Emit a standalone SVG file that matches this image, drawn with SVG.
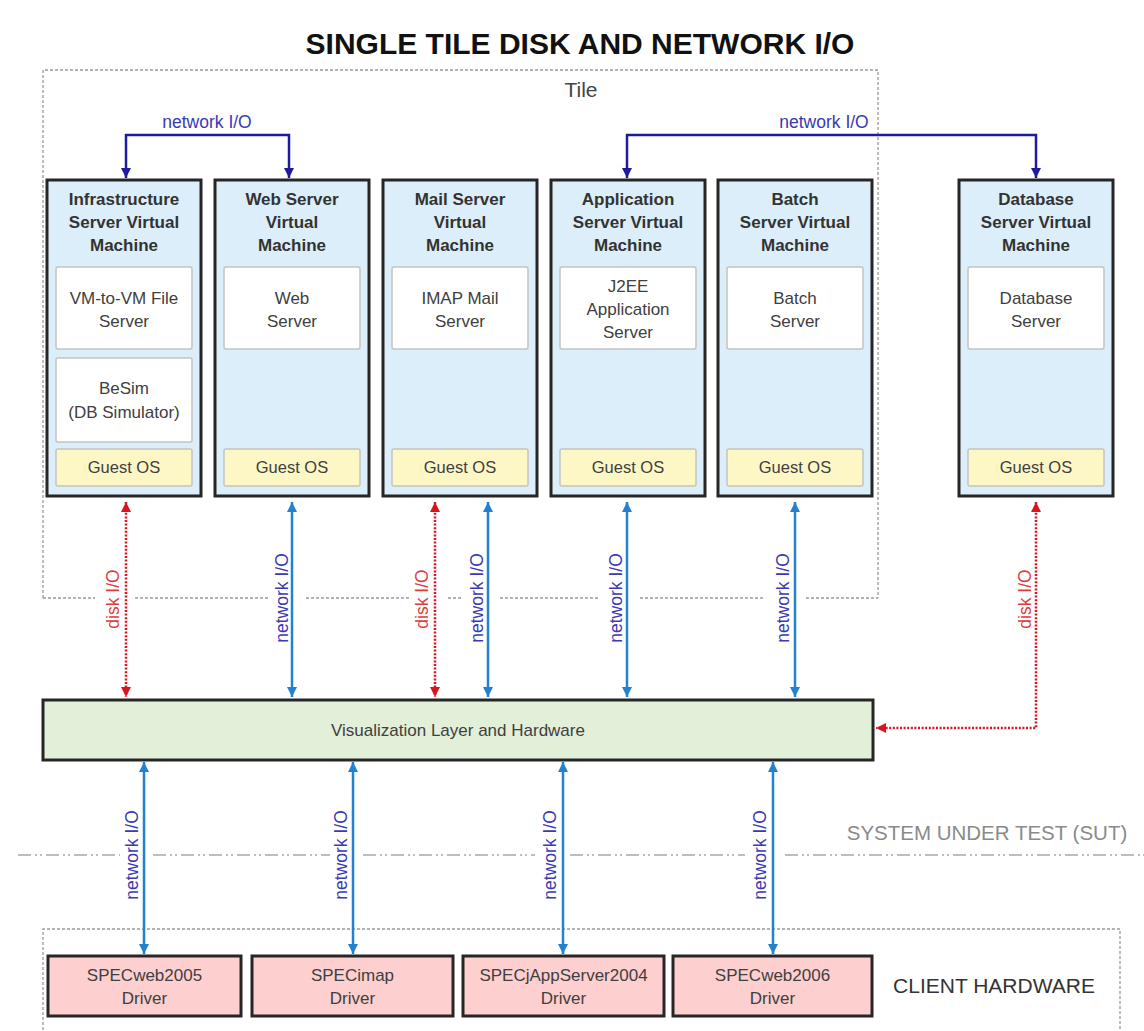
<svg xmlns="http://www.w3.org/2000/svg" width="1144" height="1031" viewBox="0 0 1144 1031">
<defs>
<style>
text{font-family:"Liberation Sans",Arial,sans-serif;}
.vm{fill:#dbeef9;stroke:#262626;stroke-width:3}
.inner{fill:#fff;stroke:#c4c4c4;stroke-width:1.5}
.gos{fill:#fdf7c6;stroke:#c4c4c4;stroke-width:1.5}
.ttl{font-size:17px;font-weight:bold;fill:#333;text-anchor:middle}
.txt{font-size:17px;fill:#404040;text-anchor:middle}
.gt{font-size:16.5px;fill:#404040;text-anchor:middle}
.net{fill:none;stroke:#2382d0;stroke-width:2.5;marker-start:url(#ab);marker-end:url(#ab)}
.disk{fill:none;stroke:#d9141c;stroke-width:2.5;stroke-dasharray:2 1.6;marker-start:url(#ar);marker-end:url(#ar)}
.nav{fill:none;stroke:#1c1c9c;stroke-width:2.5;marker-start:url(#an);marker-end:url(#an)}
.nl{font-size:17.5px;fill:#3a3ab4;text-anchor:middle}
.dl{font-size:17.5px;fill:#e03c3c;text-anchor:middle}
.dash{fill:none;stroke:#9a9a9a;stroke-width:1.3;stroke-dasharray:3 2}
.sut{fill:none;stroke:#bdbdbd;stroke-width:2;stroke-dasharray:13 4 2 3 2 4}
.drv{fill:#fdcfcf;stroke:#262626;stroke-width:3}
</style>
<marker id="ab" viewBox="0 0 10 10" refX="10" refY="5" markerWidth="10" markerHeight="10" markerUnits="userSpaceOnUse" orient="auto-start-reverse"><path d="M0,0 L10,5 L0,10 z" fill="#2382d0"/></marker>
<marker id="ar" viewBox="0 0 10 10" refX="10" refY="5" markerWidth="10" markerHeight="10" markerUnits="userSpaceOnUse" orient="auto-start-reverse"><path d="M0,0 L10,5 L0,10 z" fill="#d9141c"/></marker>
<marker id="an" viewBox="0 0 10 10" refX="10" refY="5" markerWidth="10" markerHeight="10" markerUnits="userSpaceOnUse" orient="auto-start-reverse"><path d="M0,0 L10,5 L0,10 z" fill="#1c1c9c"/></marker>
</defs>
<rect width="1144" height="1031" fill="#fff"/>

<text x="580" y="54" style="font-size:30px;font-weight:bold;fill:#111;text-anchor:middle">SINGLE TILE DISK AND NETWORK I/O</text>

<g id="tile">
<path class="dash" d="M43,598 V70 H878 V598 M43,598 H95 M135,598 H268 M306,598 H410 M448,598 H462 M500,598 H598 M640,598 H765 M806,598 H878"/>
<text x="581" y="97" style="font-size:21px;fill:#444;text-anchor:middle">Tile</text>
</g>

<g id="sut">
<path class="sut" d="M18,855 H120 M153,855 H330 M363,855 H535 M570,855 H745 M785,855 H1144"/>
<text x="987" y="840" style="font-size:20.5px;fill:#8a8a8a;text-anchor:middle">SYSTEM UNDER TEST (SUT)</text>
</g>

<g id="client-hardware">
<path class="dash" d="M43,1040 V929 H1120 V1040"/>
<text x="994" y="993" style="font-size:21px;fill:#333;text-anchor:middle">CLIENT HARDWARE</text>
</g>

<g id="vm-infrastructure">
<rect class="vm" x="47" y="180" width="154" height="316"/>
<text class="ttl" x="124" y="205">Infrastructure</text>
<text class="ttl" x="124" y="228">Server Virtual</text>
<text class="ttl" x="124" y="251">Machine</text>
<rect class="inner" x="56" y="267" width="136" height="82" rx="2"/>
<text class="txt" x="124" y="304">VM-to-VM File</text>
<text class="txt" x="124" y="327">Server</text>
<rect class="inner" x="56" y="358" width="136" height="84" rx="2"/>
<text class="txt" x="124" y="394">BeSim</text>
<text class="txt" x="124" y="418">(DB Simulator)</text>
<rect class="gos" x="56" y="449" width="136" height="37" rx="2"/>
<text class="gt" x="124" y="473">Guest OS</text>
</g>

<g id="vm-web">
<rect class="vm" x="215" y="180" width="154" height="316"/>
<text class="ttl" x="292" y="205">Web Server</text>
<text class="ttl" x="292" y="228">Virtual</text>
<text class="ttl" x="292" y="251">Machine</text>
<rect class="inner" x="224" y="267" width="136" height="82" rx="2"/>
<text class="txt" x="292" y="304">Web</text>
<text class="txt" x="292" y="327">Server</text>
<rect class="gos" x="224" y="449" width="136" height="37" rx="2"/>
<text class="gt" x="292" y="473">Guest OS</text>
</g>

<g id="vm-mail">
<rect class="vm" x="383" y="180" width="154" height="316"/>
<text class="ttl" x="460" y="205">Mail Server</text>
<text class="ttl" x="460" y="228">Virtual</text>
<text class="ttl" x="460" y="251">Machine</text>
<rect class="inner" x="392" y="267" width="136" height="82" rx="2"/>
<text class="txt" x="460" y="304">IMAP Mail</text>
<text class="txt" x="460" y="327">Server</text>
<rect class="gos" x="392" y="449" width="136" height="37" rx="2"/>
<text class="gt" x="460" y="473">Guest OS</text>
</g>

<g id="vm-application">
<rect class="vm" x="551" y="180" width="154" height="316"/>
<text class="ttl" x="628" y="205">Application</text>
<text class="ttl" x="628" y="228">Server Virtual</text>
<text class="ttl" x="628" y="251">Machine</text>
<rect class="inner" x="560" y="267" width="136" height="82" rx="2"/>
<text class="txt" x="628" y="292">J2EE</text>
<text class="txt" x="628" y="315">Application</text>
<text class="txt" x="628" y="338">Server</text>
<rect class="gos" x="560" y="449" width="136" height="37" rx="2"/>
<text class="gt" x="628" y="473">Guest OS</text>
</g>

<g id="vm-batch">
<rect class="vm" x="718" y="180" width="154" height="316"/>
<text class="ttl" x="795" y="205">Batch</text>
<text class="ttl" x="795" y="228">Server Virtual</text>
<text class="ttl" x="795" y="251">Machine</text>
<rect class="inner" x="727" y="267" width="136" height="82" rx="2"/>
<text class="txt" x="795" y="304">Batch</text>
<text class="txt" x="795" y="327">Server</text>
<rect class="gos" x="727" y="449" width="136" height="37" rx="2"/>
<text class="gt" x="795" y="473">Guest OS</text>
</g>

<g id="vm-database">
<rect class="vm" x="959" y="180" width="154" height="316"/>
<text class="ttl" x="1036" y="205">Database</text>
<text class="ttl" x="1036" y="228">Server Virtual</text>
<text class="ttl" x="1036" y="251">Machine</text>
<rect class="inner" x="968" y="267" width="136" height="82" rx="2"/>
<text class="txt" x="1036" y="304">Database</text>
<text class="txt" x="1036" y="327">Server</text>
<rect class="gos" x="968" y="449" width="136" height="37" rx="2"/>
<text class="gt" x="1036" y="473">Guest OS</text>
</g>

<g id="virtualization-layer">
<rect x="43" y="700" width="830" height="60" fill="#e2efd9" stroke="#262626" stroke-width="3"/>
<text class="txt" x="458" y="736">Visualization Layer and Hardware</text>
</g>

<g id="driver-specweb2005">
<rect class="drv" x="48" y="956" width="193" height="60"/>
<text class="txt" x="144.5" y="981">SPECweb2005</text>
<text class="txt" x="144.5" y="1004">Driver</text>
</g>
<g id="driver-specimap">
<rect class="drv" x="252" y="956" width="201" height="60"/>
<text class="txt" x="352.5" y="981">SPECimap</text>
<text class="txt" x="352.5" y="1004">Driver</text>
</g>
<g id="driver-specjappserver2004">
<rect class="drv" x="463" y="956" width="201" height="60"/>
<text class="txt" x="563.5" y="981">SPECjAppServer2004</text>
<text class="txt" x="563.5" y="1004">Driver</text>
</g>
<g id="driver-specweb2006">
<rect class="drv" x="673" y="956" width="199" height="60"/>
<text class="txt" x="772.5" y="981">SPECweb2006</text>
<text class="txt" x="772.5" y="1004">Driver</text>
</g>

<g id="connectors">
<path class="nav" d="M126,178 V135 H289 V178"/>
<text class="nl" x="207" y="128">network I/O</text>
<path class="nav" d="M627,178 V135 H1036 V178"/>
<text class="nl" x="824" y="128">network I/O</text>

<path class="disk" d="M126,502 V697"/>
<text class="dl" transform="translate(119,599) rotate(-90)">disk I/O</text>
<path class="net" d="M292,502 V697"/>
<text class="nl" transform="translate(288,598) rotate(-90)">network I/O</text>
<path class="disk" d="M435,502 V697"/>
<text class="dl" transform="translate(428,599) rotate(-90)">disk I/O</text>
<path class="net" d="M488,502 V697"/>
<text class="nl" transform="translate(483,598) rotate(-90)">network I/O</text>
<path class="net" d="M627,502 V697"/>
<text class="nl" transform="translate(622,598) rotate(-90)">network I/O</text>
<path class="net" d="M795,502 V697"/>
<text class="nl" transform="translate(789,598) rotate(-90)">network I/O</text>
<path class="disk" d="M1036,502 V728 H876"/>
<text class="dl" transform="translate(1031,599) rotate(-90)">disk I/O</text>

<path class="net" d="M144,762 V954"/>
<text class="nl" transform="translate(138,855) rotate(-90)">network I/O</text>
<path class="net" d="M353,762 V954"/>
<text class="nl" transform="translate(347,855) rotate(-90)">network I/O</text>
<path class="net" d="M563,762 V954"/>
<text class="nl" transform="translate(556,855) rotate(-90)">network I/O</text>
<path class="net" d="M773,762 V954"/>
<text class="nl" transform="translate(766,855) rotate(-90)">network I/O</text>
</g>
</svg>
